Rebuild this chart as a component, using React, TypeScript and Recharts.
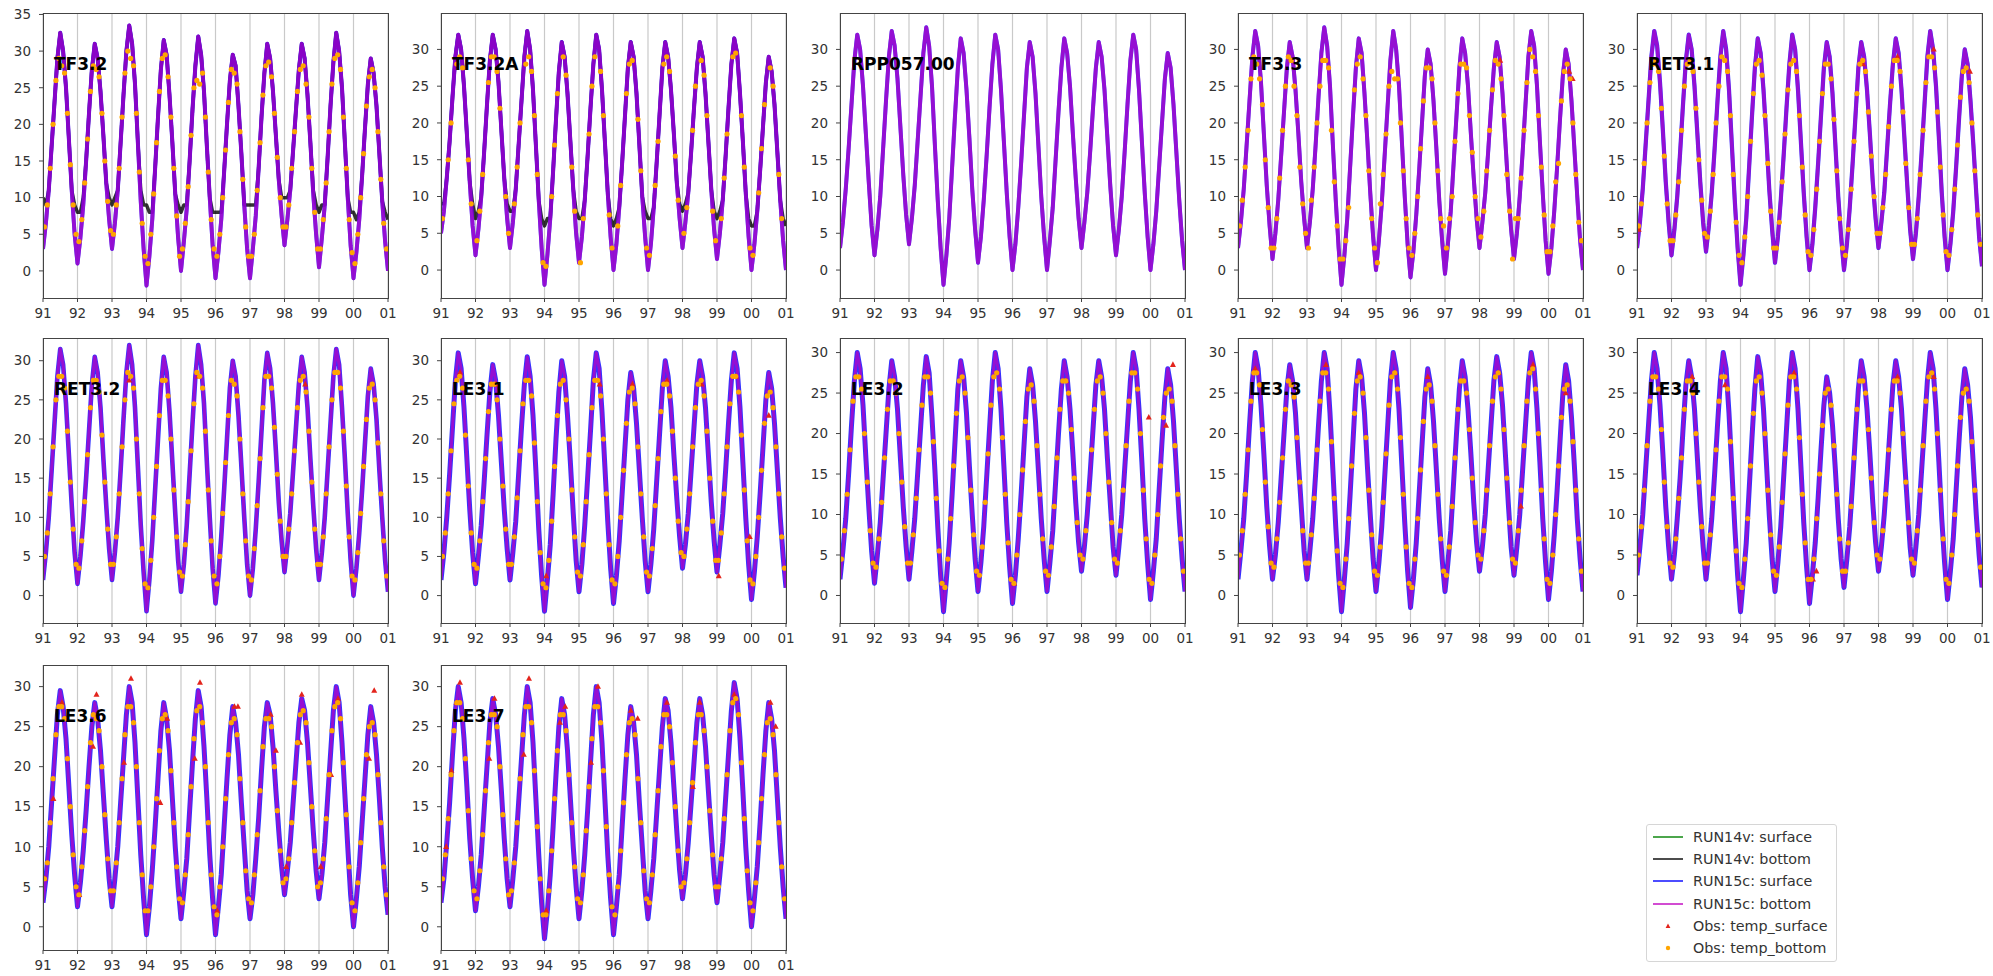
import React from "react";
import { ComposedChart, Line, Scatter, XAxis, YAxis, CartesianGrid } from "recharts";

// ---------- axes ----------
const yearTicks = [1991, 1992, 1993, 1994, 1995, 1996, 1997, 1998, 1999, 2000, 2001];
const yearTickLabels = ["91", "92", "93", "94", "95", "96", "97", "98", "99", "00", "01"];
const startYear = 1991; // monthly series start on 1 Jan 1991
const yTicksTo35 = [0, 5, 10, 15, 20, 25, 30, 35];
const yTicksTo30 = [0, 5, 10, 15, 20, 25, 30];

// ---------- station names ----------
const stationNames = ["TF3.2", "TF3.2A", "RPP057.00", "TF3.3", "RET3.1", "RET3.2", "LE3.1", "LE3.2", "LE3.3", "LE3.4", "LE3.6", "LE3.7"];

// ---------- monthly model temperature (RUN15c, surface ~ bottom), Jan 1991 .. Jan 2001 ----------
const tf32Run15 = [
  3, 6.5, 11, 17, 23, 29, 32.5, 30, 25, 18, 11, 5,
  1, 4.5, 9, 15, 21.5, 27.5, 31, 29, 24.5, 18.5, 12, 7,
  3, 6.5, 11, 17.5, 24, 30, 33.5, 31, 25.5, 17.5, 9.5, 3,
  -2, 2, 7, 14, 21, 27.5, 31.5, 29.5, 24, 17.5, 10.5, 4.5,
  0, 4, 8.5, 15, 22, 28, 32, 29.5, 24.5, 17, 10, 3.5,
  -1, 2.5, 7, 13.5, 20, 26, 29.5, 28, 22.5, 16, 9, 3,
  -1, 3, 7.5, 14, 21, 27, 31, 29, 24.5, 18.5, 12.5, 7.5,
  3.5, 7, 11, 16.5, 22, 27.5, 31, 29, 24, 17.5, 10.5, 5,
  0.5, 4.5, 9, 15.5, 22.5, 28.5, 32.5, 30, 25, 17.5, 10, 3.5,
  -1, 2.5, 7, 13, 19.5, 25.5, 29, 27, 22.5, 16, 9.5, 4,
  0,
];
const tf32Run14Bottom = [
  10, 9, 11, 17, 23, 29, 32.5, 30, 25, 18, 11, 9,
  8, 8, 10, 15, 21.5, 27.5, 31, 29, 24.5, 18.5, 12, 10,
  9, 10, 11, 17.5, 24, 30, 33.5, 31, 25.5, 17.5, 11, 9,
  9, 8, 8, 14, 21, 27.5, 31.5, 29.5, 24, 17.5, 10.5, 9,
  8, 9, 9, 15, 22, 28, 32, 29.5, 24.5, 17, 10, 8,
  8, 8, 8, 13.5, 20, 26, 29.5, 28, 22.5, 16, 9, 9,
  9, 9, 9, 14, 21, 27, 31, 29, 24.5, 18.5, 12.5, 10,
  10, 10, 11, 16.5, 22, 27.5, 31, 29, 24, 17.5, 11, 9,
  8, 9, 9, 15.5, 22.5, 28.5, 32.5, 30, 25, 17.5, 10, 8,
  8, 7, 8, 13, 19.5, 25.5, 29, 27, 22.5, 16, 9.5, 8,
  7,
];
const tf32aRun15 = [
  5, 8, 12.5, 17.5, 23.5, 29, 32, 30, 25, 18.5, 12, 6,
  2, 5.5, 10, 16, 22.5, 28.5, 32, 30, 25.5, 19, 12.5, 7,
  3, 6.5, 11, 17, 23, 29, 32.5, 30, 24.5, 17, 9.5, 3,
  -2, 2, 7, 13.5, 20.5, 27, 31, 29, 24, 17.5, 11, 5,
  1, 4.5, 9.5, 15.5, 22, 28, 32, 30, 24.5, 17.5, 10.5, 4.5,
  0, 3.5, 8.5, 14.5, 21, 27.5, 31, 29, 24, 17, 10, 4.5,
  0, 3.5, 8.5, 14.5, 21, 27.5, 31, 29, 24.5, 18.5, 12, 7,
  3, 6.5, 10.5, 16, 22, 27.5, 31, 29, 24, 17.5, 11, 5.5,
  1.5, 5, 9.5, 15.5, 22, 28, 31.5, 29.5, 24, 17.5, 10.5, 4.5,
  0, 3.5, 8, 13.5, 19.5, 25.5, 29, 27, 22.5, 16, 9.5, 4,
  0,
];
const tf32aRun14Bottom = [
  9, 9, 12.5, 17.5, 23.5, 29, 32, 30, 25, 18.5, 12, 9,
  7, 8, 10, 16, 22.5, 28.5, 32, 30, 25.5, 19, 12.5, 9,
  8, 8, 11, 17, 23, 29, 32.5, 30, 24.5, 17, 9.5, 7,
  6, 7, 7, 13.5, 20.5, 27, 31, 29, 24, 17.5, 11, 8,
  7, 7, 9.5, 15.5, 22, 28, 32, 30, 24.5, 17.5, 10.5, 7,
  6, 7, 8.5, 14.5, 21, 27.5, 31, 29, 24, 17, 10, 8,
  7, 7, 8.5, 14.5, 21, 27.5, 31, 29, 24.5, 18.5, 12, 9,
  8, 9, 10.5, 16, 22, 27.5, 31, 29, 24, 17.5, 11, 8,
  7, 8, 9.5, 15.5, 22, 28, 31.5, 29.5, 24, 17.5, 10.5, 7,
  6, 6, 8, 13.5, 19.5, 25.5, 29, 27, 22.5, 16, 9.5, 7,
  6,
];
const rpp057Run15 = [
  3, 6.5, 11, 16.5, 22.5, 28.5, 32, 30, 25, 18.5, 12, 6,
  2, 5.5, 10, 16.5, 23, 29, 32.5, 30.5, 26, 19.5, 13, 7.5,
  3.5, 7, 11.5, 17.5, 23.5, 29.5, 33, 30.5, 25, 17, 9.5, 3,
  -2, 2, 7, 14, 21, 27.5, 31.5, 29.5, 24.5, 18, 11, 5.5,
  1, 4.5, 9.5, 15.5, 22, 28, 32, 30, 24.5, 17.5, 10.5, 4.5,
  0, 3.5, 8.5, 14.5, 21, 27.5, 31, 29, 24, 17, 10, 4.5,
  0, 4, 8.5, 15, 21.5, 27.5, 31.5, 29.5, 25, 18.5, 12.5, 7,
  3, 6.5, 10.5, 16, 22, 27.5, 31, 29, 24.5, 18, 11.5, 6,
  2, 5.5, 10, 16, 22.5, 28.5, 32, 30, 24.5, 17.5, 10.5, 4.5,
  0, 3.5, 8, 14, 20, 26, 29.5, 27.5, 22.5, 16, 9.5, 4,
  0,
];
const tf33Run15 = [
  3, 6.5, 11, 17, 23, 29, 32.5, 30.5, 25.5, 18.5, 11.5, 6,
  1.5, 5, 9.5, 15.5, 21.5, 27.5, 31, 29, 24.5, 18.5, 12, 7,
  3, 6.5, 11, 17, 23.5, 29.5, 33, 30.5, 25, 17, 9.5, 3,
  -2, 2, 7, 14, 21, 27.5, 31.5, 29.5, 24, 17.5, 10.5, 4.5,
  0, 4, 9, 15.5, 22, 28.5, 32.5, 30, 25, 17.5, 10, 3.5,
  -1, 2.5, 7.5, 13.5, 20, 26.5, 30, 28, 23, 16.5, 9.5, 4,
  -0.5, 3.5, 8, 14.5, 21, 27.5, 31.5, 29.5, 25, 18.5, 12.5, 7,
  3, 6.5, 10.5, 16, 22, 27.5, 31, 29, 24, 17.5, 11, 5.5,
  1.5, 5, 10, 16, 22.5, 29, 32.5, 30.5, 25, 17.5, 10.5, 4,
  -0.5, 3, 8, 14, 20.5, 26.5, 30, 28, 23, 16.5, 10, 4,
  0,
];
const ret31Run15 = [
  3, 6.5, 11, 17, 23, 29, 32.5, 30.5, 25.5, 19, 12, 6.5,
  2, 5.5, 10, 16, 22.5, 28.5, 32, 30, 25, 18.5, 12, 6.5,
  2.5, 6, 10.5, 16.5, 23, 29, 32.5, 30, 24.5, 17, 9.5, 3,
  -2, 2, 7, 14, 21, 27.5, 31.5, 29.5, 24.5, 18, 11, 5.5,
  1, 4.5, 9.5, 15.5, 22, 28, 32, 30, 24.5, 17.5, 10.5, 4.5,
  0, 3.5, 8.5, 14.5, 21, 27.5, 31, 29, 24, 17, 10, 4.5,
  0, 3.5, 8.5, 14.5, 21, 27.5, 31, 29, 24.5, 18.5, 12, 7,
  3, 6.5, 10.5, 16.5, 22.5, 28, 31.5, 29.5, 24.5, 18, 11.5, 5.5,
  1.5, 5, 10, 16, 22.5, 29, 32.5, 30, 25, 18, 10.5, 4.5,
  0, 3.5, 8, 14, 20.5, 26.5, 30, 28, 23, 17, 10.5, 4.5,
  0.5,
];
const ret32Run15 = [
  2, 5.5, 10, 16, 22, 28, 31.5, 29.5, 24.5, 18, 11.5, 5.5,
  1.5, 5, 9.5, 15, 21, 27, 30.5, 28.5, 24, 17.5, 11.5, 6,
  2, 5.5, 10, 16, 22.5, 28.5, 32, 29.5, 24, 16.5, 9, 3,
  -2, 2, 7, 13.5, 20, 26.5, 30.5, 28.5, 23.5, 17, 10.5, 4.5,
  0.5, 4, 9, 15.5, 22, 28, 32, 29.5, 24.5, 17, 10, 3.5,
  -1, 2.5, 7.5, 13.5, 20, 26.5, 30, 28, 23, 16.5, 10, 4,
  0, 3.5, 8.5, 14.5, 21, 27.5, 31, 29, 24.5, 18.5, 12, 7,
  3, 6.5, 10.5, 16, 21.5, 27, 30.5, 28.5, 24, 17.5, 11.5, 6,
  2, 5.5, 10, 16, 22, 28, 31.5, 29.5, 24, 17.5, 10.5, 4.5,
  0, 3.5, 8, 13.5, 19.5, 25.5, 29, 27, 22.5, 16, 10, 4.5,
  0.5,
];
const le31Run15 = [
  2, 5.5, 10, 15.5, 21.5, 27.5, 31, 29, 24, 17.5, 11, 5.5,
  1.5, 5, 9, 14.5, 20.5, 26, 29.5, 27.5, 23, 17, 11, 6,
  2, 5.5, 9.5, 15.5, 21.5, 27, 30.5, 28, 23, 16, 8.5, 2.5,
  -2, 2, 6.5, 13, 20, 26, 30, 28, 23, 17, 10.5, 4.5,
  0.5, 4, 9, 15, 21, 27.5, 31, 29, 23.5, 16.5, 9.5, 3.5,
  -1, 2.5, 7, 13, 19, 25, 28.5, 26.5, 22, 16, 10, 4.5,
  0.5, 4, 8.5, 14.5, 20.5, 26.5, 30, 28, 24, 18, 12.5, 7.5,
  3.5, 6.5, 10.5, 16, 21.5, 27, 30, 28, 24, 18, 12, 7,
  3, 6.5, 10.5, 16, 22, 27.5, 31, 29, 24, 17, 10, 4,
  -0.5, 3, 7.5, 13, 19, 25, 28.5, 26.5, 22, 16, 10, 5,
  1,
];
const le32Run15 = [
  2, 5.5, 9.5, 15, 21, 26.5, 30, 28, 23.5, 17, 11, 5.5,
  1.5, 5, 9, 14.5, 20, 25.5, 29, 27, 23, 17, 11, 6,
  2, 5.5, 9.5, 15, 20.5, 26, 29.5, 27.5, 22, 15.5, 8.5, 2.5,
  -2, 2, 6.5, 12.5, 19, 25.5, 29, 27, 22.5, 16, 10, 4.5,
  0.5, 4, 8.5, 14.5, 20.5, 26.5, 30, 28, 23, 16, 9, 3.5,
  -1, 2.5, 7, 12.5, 18.5, 24.5, 28, 26, 21.5, 15.5, 9.5, 4.5,
  0.5, 4, 8, 14, 20, 25.5, 29, 27, 23, 17.5, 11.5, 6.5,
  3, 6, 10, 15, 20.5, 26, 29, 27, 23, 17, 11.5, 6,
  2.5, 6, 10, 15.5, 21, 26.5, 30, 28, 23, 16.5, 9.5, 4,
  -0.5, 3, 7, 13, 19, 24.5, 28, 26, 21.5, 15.5, 9.5, 4.5,
  0.5,
];
const le33Run15 = [
  2, 5.5, 9.5, 15, 21, 26.5, 30, 28, 23.5, 17.5, 11, 6,
  2, 5, 9, 14.5, 20, 25.5, 28.5, 26.5, 22.5, 16.5, 11, 5.5,
  2, 5.5, 9.5, 15, 21, 26.5, 30, 28, 22.5, 15.5, 8.5, 2.5,
  -2, 2, 6.5, 12.5, 19, 25.5, 29, 27, 22.5, 16, 10, 4.5,
  0.5, 4, 8.5, 14.5, 20.5, 26.5, 30, 28, 23, 16, 9, 3,
  -1.5, 2, 6.5, 12.5, 18.5, 24.5, 28, 26, 21.5, 15.5, 9.5, 4.5,
  0.5, 4, 8, 14, 20, 25.5, 29, 27, 23, 17.5, 11.5, 6.5,
  3, 6, 10, 15.5, 21, 26.5, 29.5, 27.5, 23.5, 17.5, 11.5, 6,
  2.5, 6, 10, 15.5, 21, 26.5, 30, 28, 23, 16.5, 9.5, 4,
  -0.5, 3, 7.5, 13, 19, 25, 28.5, 26.5, 22, 16, 9.5, 4.5,
  0.5,
];
const le34Run15 = [
  2.5, 6, 10, 15.5, 21, 26.5, 30, 28, 23.5, 17.5, 11, 6,
  2, 5, 9.5, 14.5, 20.5, 26, 29, 27, 23, 17, 11, 6,
  2, 5.5, 9.5, 15, 21, 26.5, 30, 28, 22.5, 15.5, 8.5, 2.5,
  -2, 2, 6.5, 13, 19.5, 25.5, 29.5, 27.5, 23, 16.5, 10, 4.5,
  0.5, 4, 8.5, 14.5, 20.5, 26.5, 30, 28, 23, 16, 9, 3.5,
  -1, 2.5, 6.5, 12, 18, 23.5, 27, 25, 21, 15.5, 9.5, 4.5,
  1, 4.5, 8.5, 14, 20, 25.5, 29, 27, 23, 17.5, 11.5, 6.5,
  3, 6, 10, 15, 20.5, 26, 29, 27, 23, 17, 11.5, 6,
  2.5, 6, 10, 15.5, 21, 26.5, 30, 28, 23, 16.5, 9.5, 4,
  -0.5, 3, 7, 13, 19, 24.5, 28, 26, 22, 16, 10, 5,
  1,
];
const le36Run15 = [
  3, 6, 10, 15.5, 21, 26.5, 29.5, 27.5, 23.5, 17.5, 11.5, 6.5,
  2.5, 5.5, 9.5, 14.5, 20, 25, 28, 26, 22, 16.5, 11, 6,
  2.5, 6, 10, 15.5, 21, 26.5, 30, 28, 23, 16, 9, 3.5,
  -1, 2.5, 7, 12.5, 18.5, 24.5, 28, 26, 22, 16, 10, 5,
  1, 4.5, 8.5, 14.5, 20.5, 26, 29.5, 27.5, 22.5, 16, 9, 3.5,
  -1, 2.5, 6.5, 12.5, 18.5, 24, 27.5, 25.5, 21.5, 15.5, 10, 4.5,
  1, 4, 8.5, 13.5, 19.5, 25, 28, 26.5, 22.5, 17, 12, 7.5,
  4, 7, 10.5, 15.5, 20.5, 25.5, 28.5, 27, 23, 17.5, 12, 7,
  3.5, 6.5, 10.5, 16, 21.5, 27, 30, 28, 23, 16.5, 10, 4,
  0, 3.5, 7.5, 13, 18.5, 24, 27.5, 25.5, 21.5, 16, 10, 5,
  1.5,
];
const le37Run15 = [
  3, 6, 10.5, 15.5, 21.5, 27, 30, 28, 23.5, 17.5, 11, 6,
  2, 5, 9, 14.5, 20, 25.5, 28.5, 26.5, 22.5, 17, 11, 6,
  2.5, 6, 10, 15.5, 21, 26.5, 30, 28, 23, 16, 9, 3,
  -1.5, 2, 6.5, 12.5, 19, 25, 28.5, 26.5, 22, 16, 10, 5,
  1, 4.5, 9, 14.5, 20.5, 26.5, 30, 28, 23, 16, 9, 3.5,
  -1, 2.5, 6.5, 12.5, 18.5, 24, 27.5, 25.5, 21.5, 15.5, 10, 4.5,
  1, 4.5, 8.5, 14, 19.5, 25, 28.5, 27, 23, 17.5, 12, 7,
  3.5, 6.5, 10.5, 15.5, 20.5, 25.5, 28.5, 26.5, 22.5, 17, 11.5, 6.5,
  3, 6.5, 10.5, 16, 21.5, 27, 30.5, 28.5, 23.5, 17, 10, 4.5,
  0, 3.5, 7.5, 13, 19, 24.5, 28, 26, 22, 16, 10, 5,
  1,
];

// ---------- observed bottom temperature, mid-month samples (null = no sample) ----------
const tf32ObsBottom = [
  6, 9, 14, 20, 26, 29, 28, 27, 21.5, 14.5, 9, 5,
  4, 7, 12, 18, 24.5, 28, 27.5, 26.5, 21.5, 15, 9.5, 5.5,
  5, 9, 14, 21, 27, 30, 29, 28, 21.5, 13.5, 6.5, 2,
  1, 5, 10.5, 17.5, 24.5, 29, 29.5, 26.5, 21, 14, 7.5, 2,
  3, 6.5, 11.5, 18.5, 25, 26, 25.5, 27, 21, 13.5, 7, 3,
  2, 5, 10, 16.5, 23, 27.5, 27, 25.5, 19, 12.5, 6, 2,
  2, 5, 11, 17.5, 24, 28, 28.5, 26.5, 21.5, 15.5, 10, 6,
  6, 9, 14, 19, 24.5, 27.5, 28, 25.5, 21, 14, 8, 3,
  3, 7, 12, 19, 25.5, 29, 29.5, 27.5, 21, 14, 7, 2.5,
  1, 5, 10, 16, 22.5, 26.5, 27.5, 25, 19, 12.5, 6.5, 3,
];
const tf32aObsBottom = [
  7, null, 15, 20, null, 28, 29, 27.5, null, 15, 9, null,
  4, 8, 13, null, 25.5, 29, 29, 27, 22, null, 10, 5,
  null, 9, 14, 20, null, 28, 29, 27, 21, 13, null, 1,
  0.5, null, 10, 17, 24, null, 29, 26.5, null, 14, 8, null,
  1, 7, null, 18.5, 25, 29, null, 27, 21, null, 7.5, 3,
  null, 6, 11.5, null, 24, 28, 28.5, null, 20.5, 13.5, null, 3,
  2, null, 11.5, 17.5, null, 28, 29, 27, null, 15.5, 9.5, null,
  5, 8.5, null, 19, 25, null, 28.5, 26.5, 21, null, 8, 4,
  null, 7, 12.5, 18.5, null, 29, 29.5, null, 21, 14, null, 3,
  2, null, 10.5, 16.5, 22.5, null, 27.5, 25, null, 13, 7, null,
];
const tf33ObsBottom = [
  6, 9.5, 14, 19, 26, 29, 28, 26, 22.5, 15, 8.5, 3,
  3, 7, 12.5, 19, 25, 29, 28.5, 25, 21, 14, 9, 5,
  3, 9.5, 14, 20, 25, 28.5, 28.5, 27.5, 19, 12, 6, 1.5,
  1.5, 4, 8.5, null, 24.5, 28, 29, 26, 21, 13.5, 7, 3,
  1, 9, 13, 18.5, 25, 27, 26, 26, 20, 13.5, 7, 3,
  2, 5, 10, 16.5, 23, 27.5, 27.5, 26, 20, 13.5, 7, 6,
  3, 7, 10, 17.5, 24, 28, 28, 27.5, 21, 16, 10, 7,
  4.5, 8, 13.5, 19, 24.5, 28.5, 28, 26, 21, 13, 8, 1.5,
  7, 7, 12.5, 19, 25.5, 30, 29, 27, 21, 14, 7.5, 2.5,
  2.5, 6, 12, 14.5, 23, 27, 28, 26, 20, 13, 6.5, 4,
];
const ret31ObsBottom = [
  6, 9, 14.5, 20, 25.5, 28, 28.5, 27, 22, 15.5, 9, 4,
  4, 7.5, 12, 19, 25, 28, 28.5, 27, 22, 15, 9.5, 5,
  4.5, 8, 13, 20, 25, 29, 28.5, 27, 21, 13, 6.5, 2,
  1, 4.5, 10, 17.5, 24, 28, 28.5, 26.5, 21, 14.5, 8, 3,
  3, 6.5, 12, 18.5, 24.5, 28, 28.5, 27, 21, 14, 7.5, 2.5,
  2, 5.5, 11, 17.5, 24, 28, 28, 26, 20.5, 13.5, 7, 3,
  2, 5.5, 11, 17.5, 24, 28, 28.5, 27, 21.5, 15.5, 10, 5,
  5, 8.5, 13, 19.5, 25, 28.5, 28.5, 27, 21.5, 14.5, 8.5, 3.5,
  3.5, 7, 13, 19, 25.5, 29, 29, 27.5, 21.5, 14, 7.5, 2.5,
  2, 5.5, 11, 17, 23.5, 27, 27.5, 25.5, 20, 13.5, 7.5, 3.5,
];
const ret32ObsBottom = [
  5, 8, 13, 19, 25, 28, 28, 26.5, 21, 14.5, 8.5, 4,
  3.5, 7, 12, 18, 24, 27.5, 27.5, 26, 20.5, 14.5, 8.5, 4,
  4, 7.5, 13, 19, 25, 28.5, 28, 26.5, 20, 13, 6, 1.5,
  1, 4.5, 10, 16.5, 23, 27.5, 27.5, 25.5, 20, 13.5, 7.5, 3,
  2.5, 6.5, 12, 18.5, 24.5, 28.5, 28, 26.5, 21, 13.5, 7, 2.5,
  1.5, 5, 10.5, 17, 23, 27.5, 27, 25.5, 20, 13, 7, 2.5,
  2, 6, 11.5, 17.5, 24, 28, 28, 26.5, 21.5, 15.5, 9.5, 5,
  5, 8.5, 13, 18.5, 24, 27.5, 28, 26, 21, 14.5, 8.5, 4,
  4, 7.5, 13, 19, 25, 28.5, 28.5, 26.5, 21, 14, 7.5, 2.5,
  2, 5.5, 10.5, 16.5, 22.5, 26.5, 27, 25, 19.5, 13, 7, 2.5,
];
const le31ObsBottom = [
  5, 8, 13, 18.5, 24.5, 27.5, 28, 26.5, 20.5, 14, 8, 4,
  3.5, 7, 12, 17.5, 23.5, 27, 27, 25, 20, 14, 8.5, 4,
  4, 7.5, 12.5, 18.5, 24.5, 27.5, 27.5, 25.5, 19.5, 12, 5.5, 1.5,
  1, 4.5, 9.5, 16.5, 23, 27, 27.5, 25, 20, 13.5, 7.5, 3,
  2.5, 6.5, 12, 18, 24, 27.5, 27.5, 25.5, 20, 13, 6.5, 2,
  1.5, 5, 10, 16, 22, 26, 26.5, 24.5, 19, 13, 7.5, 3,
  2.5, 6, 11.5, 17.5, 23.5, 27, 27, 25.5, 21, 15, 9.5, 5.5,
  5, 8.5, 13, 19, 24, 27, 27.5, 25.5, 21, 15, 9.5, 4.5,
  4.5, 8, 13, 19, 24.5, 28, 28, 26, 20.5, 13.5, 7, 2,
  1.5, 5, 10, 16, 22, 25.5, 26, 24, 19, 13, 7.5, 3.5,
];
const le32ObsBottom = [
  4.5, 8, 12.5, 18, 24, 27, 27, 25.5, 20, 14, 8, 4,
  3.5, 7, 11.5, 17, 23, 26.5, 26.5, 25, 20, 14, 8.5, 4,
  4, 7.5, 12, 18, 23.5, 27, 27, 25, 19, 12, 5.5, 1.5,
  1, 4.5, 9.5, 16, 22.5, 26.5, 27, 25, 19.5, 13, 7.5, 3,
  2.5, 6, 11.5, 17.5, 23.5, 27, 27.5, 25.5, 19.5, 12.5, 6.5, 2,
  1.5, 5, 10, 15.5, 21.5, 25.5, 26, 24, 18.5, 12.5, 7, 3,
  2.5, 6, 11, 17, 23, 26.5, 26.5, 25, 20.5, 14.5, 9, 5,
  4.5, 8, 12.5, 18, 23, 26.5, 27, 25, 20, 14, 9, 4.5,
  4, 8, 13, 18.5, 24, 27.5, 27.5, 25.5, 20, 13, 7, 2,
  1.5, 5, 10, 16, 22, 25, 25.5, 24, 18.5, 12.5, 7, 3,
];
const le33ObsBottom = [
  5, 8, 12.5, 18, 24, 27.5, 27.5, 26, 20.5, 14, 8.5, 4,
  3.5, 7, 11.5, 17, 23, 26.5, 26, 24.5, 19.5, 14, 8, 4,
  4, 7.5, 12, 18, 24, 27.5, 27.5, 25.5, 19, 12, 5.5, 1.5,
  1, 4.5, 9.5, 16, 22.5, 26.5, 27, 25, 19.5, 13, 7.5, 3,
  2.5, 6, 11.5, 17.5, 23.5, 27, 27.5, 25.5, 19.5, 12.5, 6, 1.5,
  1, 4.5, 9.5, 15.5, 21.5, 25.5, 26, 24, 18.5, 12.5, 7, 3,
  2.5, 6, 11, 17, 23, 26.5, 26.5, 25, 20.5, 14.5, 9, 5,
  4.5, 8, 13, 18.5, 24, 27, 27.5, 25.5, 20.5, 14.5, 9, 4.5,
  4, 8, 13, 18.5, 24, 27.5, 28, 25.5, 20, 13, 7, 2,
  1.5, 5, 10, 16, 22, 25.5, 26, 24, 19, 13, 7, 3,
];
const le34ObsBottom = [
  5, 8.5, 13, 18.5, 24, 27, 27, 25.5, 20.5, 14, 8.5, 4,
  3.5, 7, 12, 17, 23, 26.5, 26.5, 25, 20, 14, 8.5, 4,
  4, 7.5, 12, 18, 24, 27, 27, 25.5, 19, 12, 5.5, 1.5,
  1, 4.5, 9.5, 16, 22.5, 26.5, 27, 25, 20, 13, 7.5, 3,
  2.5, 6, 11.5, 17.5, 23.5, 27, 27, 25.5, 19.5, 12.5, 6.5, 2,
  2, 4.5, 9.5, 15, 21, 25, 25.5, 23.5, 18.5, 12.5, 7, 3,
  3, 6.5, 11, 17, 23, 26.5, 26.5, 25, 20.5, 14.5, 9, 5,
  4.5, 8, 12.5, 18, 23, 26.5, 26.5, 25, 20, 14, 9, 4.5,
  4, 8, 13, 18.5, 24, 27, 27.5, 25.5, 20, 13, 7, 2,
  1.5, 5, 10, 16, 22, 25, 25.5, 24, 19, 13, 7.5, 3.5,
];
const le36ObsBottom = [
  6, 8, 13, 18.5, 24, 27.5, 27.5, 26, 21, 15, 9, 5,
  4, 7.5, 12, 17.5, 23, 26.5, 26, 24.5, 20, 14, 8.5, 4.5,
  4.5, 8, 13, 18.5, 24, 27.5, 27.5, 25.5, 20, 13, 6.5, 2,
  2, 5, 10, 16, 22, 26, 26.5, 24.5, 19.5, 13, 7.5, 3.5,
  3, 6.5, 11.5, 17.5, 23.5, 27, 27.5, 25.5, 20, 13, 6.5, 2.5,
  1.5, 5, 10, 16, 21.5, 25.5, 26, 24, 18.5, 13, 7, 3.5,
  3, 6.5, 11.5, 17, 22.5, 26, 26, 25, 20, 14.5, 9.5, 5.5,
  6, 8.5, 13, 18, 23, 26.5, 27, 25.5, 20.5, 15, 9.5, 5,
  5.5, 8.5, 13.5, 19, 24.5, 27.5, 28, 26, 20.5, 14, 7.5, 3,
  2, 5.5, 10.5, 16, 21.5, 25, 25.5, 24, 19, 13, 7.5, 4,
];
const le37ObsBottom = [
  6, 9, 13.5, 19, 24.5, 28, 28, 26, 21, 14.5, 8.5, 4.5,
  3.5, 7, 11.5, 17, 23, 26.5, 26.5, 25, 20, 14, 8.5, 4,
  4.5, 8, 13, 18.5, 24, 27.5, 27.5, 25.5, 19.5, 12.5, 6, 1.5,
  1.5, 4.5, 9.5, 16, 22, 26.5, 26.5, 24.5, 19, 13, 7.5, 3.5,
  3, 6.5, 12, 17.5, 23.5, 27.5, 27.5, 25.5, 19.5, 12.5, 6.5, 2.5,
  1.5, 5, 9.5, 15.5, 21.5, 25.5, 26, 24, 18.5, 13, 7, 3.5,
  3, 6.5, 11.5, 17, 22.5, 26.5, 26.5, 25, 20.5, 15, 9.5, 5,
  5.5, 8.5, 13, 18, 23, 26.5, 26.5, 24.5, 20, 14.5, 9, 5,
  5, 8.5, 13.5, 19, 24.5, 28, 28.5, 26.5, 20.5, 13.5, 7, 3,
  2, 5.5, 10.5, 16, 21.5, 25.5, 26, 24, 19, 13, 7.5, 3.5,
];

// ---------- observed surface temperature where visible: [decimal year, degC] ----------
const tf33ObsSurface = [[1998.6, 28.5], [2000.6, 27], [2000.7, 26]];
const ret31ObsSurface = [[1991.05, 5.5], [1997.55, 28], [1998.55, 29], [1999.6, 30], [2000.65, 27]];
const ret32ObsSurface = [[1993.5, 27.5], [1995.5, 28], [1998.6, 27]];
const le31ObsSurface = [[1991.55, 28.5], [1992.6, 27], [1994.05, 2.5], [1995.6, 27], [1996.55, 27], [1997.55, 27.5], [1998.55, 27], [1999.05, 2.5], [1999.55, 28], [1999.95, 7.5], [2000.5, 23]];
const le32ObsSurface = [[1996.05, 1.5], [1997.55, 26.5], [1999.95, 22], [2000.45, 21], [2000.65, 28.5]];
const le33ObsSurface = [[1991.5, 28], [1993.55, 28.5], [1994.5, 27.5], [1995.55, 27.5], [1996.5, 27], [1998.55, 27.5], [1999.2, 11], [1999.55, 28.5], [2000.5, 25]];
const le34ObsSurface = [[1992.6, 27], [1993.55, 26], [1995.55, 27.5], [1996.1, 2], [1996.2, 3], [1998.55, 27], [1999.6, 27], [2000.55, 25.5]];
const le36ObsSurface = [[1991.05, 6], [1991.3, 16], [1991.55, 28], [1992.05, 4], [1992.45, 22.5], [1992.55, 29], [1993.35, 20.5], [1993.55, 31], [1994.4, 15.5], [1994.6, 26], [1995.4, 21], [1995.55, 30.5], [1996.05, 2], [1996.55, 27.5], [1996.65, 27.5], [1997.6, 26.5], [1997.75, 22], [1998.05, 7.5], [1998.45, 23], [1998.5, 29], [1999.05, 7.5], [1999.35, 19], [1999.55, 28.5], [2000.45, 21], [2000.6, 29.5]];
const le37ObsSurface = [[1991.15, 10], [1991.3, 19.5], [1991.45, 28], [1991.55, 30.5], [1992.4, 21], [1992.55, 28.5], [1993.4, 21.5], [1993.55, 31], [1994.05, 2], [1994.45, 25.5], [1994.6, 27.5], [1995.35, 20.5], [1995.55, 30], [1996.5, 27], [1996.7, 26], [1997.55, 28], [1998.3, 17.5], [1998.5, 28], [1999.5, 29], [1999.55, 28.5], [2000.55, 28], [2000.7, 25]];

// ---------- legend ----------
const legendLabels = ["RUN14v: surface", "RUN14v: bottom", "RUN15c: surface", "RUN15c: bottom", "Obs: temp_surface", "Obs: temp_bottom"];
const legendKinds = ["line", "line", "line", "line", "tri", "dot"];
const legendColors = ["#008000", "#000000", "#0000ff", "#bf00bf", "#e3241c", "#ffa500"];

// ---------- layout ----------
const colLefts = [43, 441, 840, 1238, 1637];
const rowTops = [13, 338, 665];
const plotW = 345;
const plotH = 285;
const padL = 48;
const padT = 10;
const padR = 10;
const padB = 30;
const FONT = '"DejaVu Sans", Verdana, sans-serif';

type PanelCfg = {
  name: string;
  left: number;
  top: number;
  domain: [number, number];
  yTicks: number[];
  run15: number[];
  run14b?: number[];
  obsB?: (number | null)[];
  obsS?: number[][];
  blueW: number;
  magW: number;
};

const panels: PanelCfg[] = [
  { name: stationNames[0], left: colLefts[0], top: rowTops[0], domain: [-3.7, 35.2], yTicks: yTicksTo35, run15: tf32Run15, run14b: tf32Run14Bottom, obsB: tf32ObsBottom, blueW: 4, magW: 3.8 },
  { name: stationNames[1], left: colLefts[1], top: rowTops[0], domain: [-3.8, 34.95], yTicks: yTicksTo30, run15: tf32aRun15, run14b: tf32aRun14Bottom, obsB: tf32aObsBottom, blueW: 4, magW: 3.8 },
  { name: stationNames[2], left: colLefts[2], top: rowTops[0], domain: [-3.8, 34.95], yTicks: yTicksTo30, run15: rpp057Run15, blueW: 4, magW: 3.8 },
  { name: stationNames[3], left: colLefts[3], top: rowTops[0], domain: [-3.8, 34.95], yTicks: yTicksTo30, run15: tf33Run15, obsB: tf33ObsBottom, obsS: tf33ObsSurface, blueW: 4, magW: 3.8 },
  { name: stationNames[4], left: colLefts[4], top: rowTops[0], domain: [-3.8, 34.95], yTicks: yTicksTo30, run15: ret31Run15, obsB: ret31ObsBottom, obsS: ret31ObsSurface, blueW: 4.2, magW: 3.6 },
  { name: stationNames[5], left: colLefts[0], top: rowTops[1], domain: [-3.5, 32.9], yTicks: yTicksTo30, run15: ret32Run15, obsB: ret32ObsBottom, obsS: ret32ObsSurface, blueW: 4.6, magW: 3.2 },
  { name: stationNames[6], left: colLefts[1], top: rowTops[1], domain: [-3.5, 32.9], yTicks: yTicksTo30, run15: le31Run15, obsB: le31ObsBottom, obsS: le31ObsSurface, blueW: 5, magW: 3 },
  { name: stationNames[7], left: colLefts[2], top: rowTops[1], domain: [-3.4, 31.8], yTicks: yTicksTo30, run15: le32Run15, obsB: le32ObsBottom, obsS: le32ObsSurface, blueW: 5, magW: 3 },
  { name: stationNames[8], left: colLefts[3], top: rowTops[1], domain: [-3.4, 31.8], yTicks: yTicksTo30, run15: le33Run15, obsB: le33ObsBottom, obsS: le33ObsSurface, blueW: 5, magW: 3 },
  { name: stationNames[9], left: colLefts[4], top: rowTops[1], domain: [-3.4, 31.8], yTicks: yTicksTo30, run15: le34Run15, obsB: le34ObsBottom, obsS: le34ObsSurface, blueW: 5, magW: 3 },
  { name: stationNames[10], left: colLefts[0], top: rowTops[2], domain: [-2.9, 32.7], yTicks: yTicksTo30, run15: le36Run15, obsB: le36ObsBottom, obsS: le36ObsSurface, blueW: 5, magW: 3 },
  { name: stationNames[11], left: colLefts[1], top: rowTops[2], domain: [-2.9, 32.7], yTicks: yTicksTo30, run15: le37Run15, obsB: le37ObsBottom, obsS: le37ObsSurface, blueW: 5, magW: 3 },
];

const dotShape = (props: any) => {
  const { cx, cy } = props;
  if (cx == null || cy == null || isNaN(cx) || isNaN(cy)) return <g />;
  return <circle cx={cx} cy={cy} r={2.6} fill="#ffa500" />;
};
const triShape = (props: any) => {
  const { cx, cy } = props;
  if (cx == null || cy == null || isNaN(cx) || isNaN(cy)) return <g />;
  return <polygon points={`${cx},${cy - 3.4} ${cx - 3},${cy + 2.2} ${cx + 3},${cy + 2.2}`} fill="#e3241c" />;
};

const tickStyle = { fontSize: 13.5, fill: "#333", fontFamily: FONT };

function Panel({ p }: { p: PanelCfg }) {
  const rows = p.run15.map((v, i) => ({
    t: startYear + i / 12,
    s15: v,
    b15: v,
    b14: p.run14b ? p.run14b[i] : null,
  }));
  const obsB = (p.obsB || [])
    .map((v, i) => (v == null ? null : { t: startYear + (i + 0.5) / 12, v }))
    .filter((d) => d !== null) as { t: number; v: number }[];
  const obsS = (p.obsS || []).map(([t, v]) => ({ t, v }));
  return (
    <>
      <div style={{ position: "absolute", left: p.left - padL, top: p.top - padT }}>
        <ComposedChart
          width={padL + plotW + padR}
          height={padT + plotH + padB}
          data={rows}
          margin={{ top: padT, right: padR, bottom: 0, left: 0 }}
        >
          <CartesianGrid horizontal={false} vertical={true} stroke="#c9c9c9" strokeWidth={1.2} />
          <XAxis
            type="number"
            dataKey="t"
            domain={[1991, 2001]}
            ticks={yearTicks}
            interval={0}
            allowDataOverflow
            height={padB}
            axisLine={false}
            tickSize={4}
            tickMargin={6}
            tickLine={{ stroke: "#444" }}
            tick={tickStyle}
            tickFormatter={(v: number) => yearTickLabels[yearTicks.indexOf(Math.round(v))]}
          />
          <YAxis
            type="number"
            domain={p.domain}
            ticks={p.yTicks}
            interval={0}
            allowDataOverflow
            width={padL}
            axisLine={false}
            tickSize={4}
            tickMargin={8}
            tickLine={{ stroke: "#444" }}
            tick={tickStyle}
          />
          {p.run14b && (
            <Line type="linear" dataKey="b14" stroke="#000000" strokeOpacity={0.8} strokeWidth={3.5} dot={false} activeDot={false} isAnimationActive={false} strokeLinejoin="round" />
          )}
          <Line type="linear" dataKey="s15" stroke="#0000ff" strokeOpacity={0.8} strokeWidth={p.blueW} dot={false} activeDot={false} isAnimationActive={false} strokeLinejoin="round" />
          <Line type="linear" dataKey="b15" stroke="#bf00bf" strokeOpacity={0.7} strokeWidth={p.magW} dot={false} activeDot={false} isAnimationActive={false} strokeLinejoin="round" />
          {obsS.length > 0 && <Scatter data={obsS} dataKey="v" shape={triShape} isAnimationActive={false} />}
          {obsB.length > 0 && <Scatter data={obsB} dataKey="v" shape={dotShape} isAnimationActive={false} />}
        </ComposedChart>
      </div>
      <div
        style={{
          position: "absolute",
          left: p.left,
          top: p.top,
          width: plotW + 1,
          height: plotH + 1,
          boxSizing: "border-box",
          border: "1px solid #444",
          pointerEvents: "none",
        }}
      />
      <div
        style={{
          position: "absolute",
          left: p.left + 11,
          top: p.top + 40,
          lineHeight: "22px",
          fontSize: 17,
          fontWeight: "bold",
          fontFamily: FONT,
          color: "#000",
          whiteSpace: "nowrap",
        }}
      >
        {p.name}
      </div>
    </>
  );
}

function LegendBox() {
  return (
    <div
      style={{
        position: "absolute",
        left: 1646,
        top: 824,
        width: 191,
        height: 138,
        boxSizing: "border-box",
        border: "1px solid #d6d6d6",
        borderRadius: 3,
        background: "#fff",
        fontFamily: FONT,
      }}
    >
      {legendLabels.map((label, i) => (
        <div key={label} style={{ position: "absolute", left: 0, top: 1 + i * 22.2, height: 22, width: 189 }}>
          <svg width={34} height={22} style={{ position: "absolute", left: 4, top: 0 }}>
            {legendKinds[i] === "line" && (
              <line x1={2} y1={11} x2={32} y2={11} stroke={legendColors[i]} strokeOpacity={0.7} strokeWidth={2} />
            )}
            {legendKinds[i] === "tri" && (
              <polygon points="17,8.5 14.6,13 19.4,13" fill={legendColors[i]} />
            )}
            {legendKinds[i] === "dot" && <circle cx={17} cy={11} r={2.2} fill={legendColors[i]} />}
          </svg>
          <div
            style={{
              position: "absolute",
              left: 46,
              top: 0,
              lineHeight: "22px",
              fontSize: 14.3,
              color: "#333",
              whiteSpace: "nowrap",
            }}
          >
            {label}
          </div>
        </div>
      ))}
    </div>
  );
}

export default function App() {
  return (
    <div style={{ position: "absolute", left: 0, top: 0, width: 1993, height: 976, background: "#fff", overflow: "hidden" }}>
      {panels.map((p) => (
        <Panel key={p.name} p={p} />
      ))}
      <LegendBox />
    </div>
  );
}
